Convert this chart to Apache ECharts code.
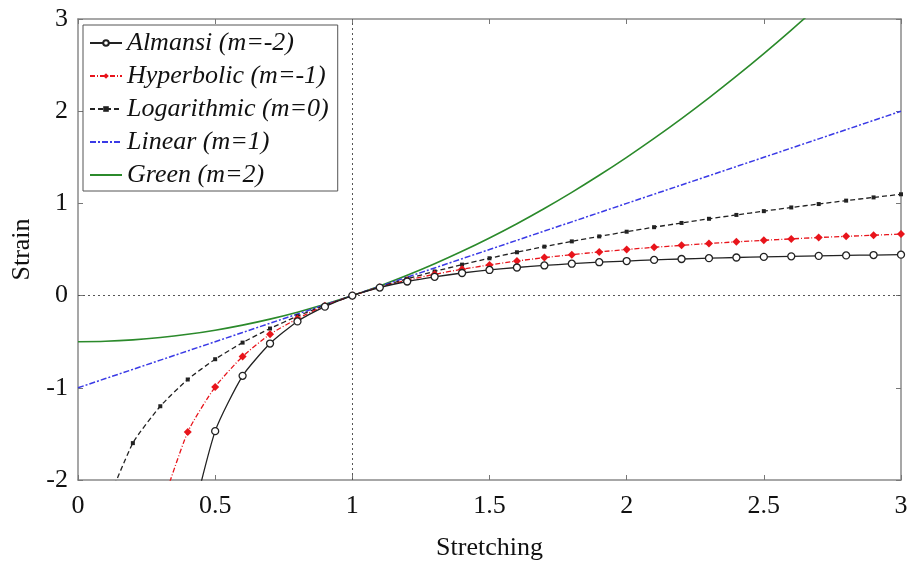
<!DOCTYPE html>
<html>
<head>
<meta charset="utf-8">
<title>Strain measures</title>
<script src="https://cdn.jsdelivr.net/npm/echarts@6/dist/echarts.min.js"></script>
<style>
	html, body { margin: 0; padding: 0; background: #fff; }
	#chart { width: 909px; height: 561px; }
</style>
</head>
<body>
<div id="chart"></div>
<script>
// stretching values (x axis), one point every 0.1
var stretch = [0, 0.1, 0.2, 0.3, 0.4, 0.5, 0.6, 0.7, 0.8, 0.9, 1.0,
	1.1, 1.2, 1.3, 1.4, 1.5, 1.6, 1.7, 1.8, 1.9, 2.0,
	2.1, 2.2, 2.3, 2.4, 2.5, 2.6, 2.7, 2.8, 2.9, 3.0];

// strain, null where the curve is not drawn
var almansi = [null, null, null, null, -2.62, -1.47, -0.87, -0.52, -0.28, -0.12, 0,
	0.087, 0.153, 0.204, 0.245, 0.278, 0.305, 0.327, 0.346, 0.362, 0.375,
	0.387, 0.397, 0.406, 0.413, 0.42, 0.426, 0.431, 0.436, 0.44, 0.444];
var hyperbolic = [null, null, null, -2.33, -1.48, -0.99, -0.66, -0.42, -0.25, -0.11, 0,
	0.091, 0.167, 0.231, 0.286, 0.333, 0.375, 0.412, 0.444, 0.474, 0.5,
	0.524, 0.545, 0.565, 0.583, 0.6, 0.615, 0.63, 0.643, 0.655, 0.667];
var logarithmic = [null, -2.3, -1.6, -1.2, -0.91, -0.69, -0.51, -0.357, -0.223, -0.105, 0,
	0.095, 0.182, 0.262, 0.336, 0.405, 0.47, 0.531, 0.588, 0.642, 0.693,
	0.742, 0.788, 0.833, 0.875, 0.916, 0.956, 0.993, 1.03, 1.065, 1.099];
var linear = [-1, -0.9, -0.8, -0.7, -0.6, -0.5, -0.4, -0.3, -0.2, -0.1, 0,
	0.1, 0.2, 0.3, 0.4, 0.5, 0.6, 0.7, 0.8, 0.9, 1.0,
	1.1, 1.2, 1.3, 1.4, 1.5, 1.6, 1.7, 1.8, 1.9, 2.0];
var green = [-0.5, -0.495, -0.48, -0.455, -0.42, -0.375, -0.32, -0.255, -0.18, -0.095, 0,
	0.105, 0.22, 0.345, 0.48, 0.625, 0.78, 0.945, 1.12, 1.305, 1.5,
	1.705, 1.92, 2.145, 2.38, 2.625, 2.88, 3.145, 3.42, 3.705, 4.0];

var xTicks = [0, 0.5, 1, 1.5, 2, 2.5, 3];
var yTicks = [-2, -1, 0, 1, 2, 3];

var serifFont = "'Liberation Serif', 'DejaVu Serif', serif";

//把x和y拼成点对
function pairs(ys) {
	var out = [];
	for(var i = 0; i < stretch.length; i++) {
		if(ys[i] !== null) {
			out.push([stretch[i], ys[i]]);
		}
	}
	return out;
}

var myChart = echarts.init(document.getElementById('chart'));

var axisLine = { show: true, onZero: false, lineStyle: { color: '#8a8a8a', width: 1.5 } };
var tickStyle = { show: true, inside: true, length: 5, lineStyle: { color: '#777', width: 1 } };

var option = {
	backgroundColor: '#fff',
	animation: false,
	grid: {
		left: 78,
		right: 8,
		top: 19,
		bottom: 81,
		outerBoundsMode: 'none'
	},
	legend: {
		orient: 'vertical',
		left: 83,
		top: 25,
		backgroundColor: '#fff',
		borderColor: '#555',
		borderWidth: 1,
		padding: [5, 9, 3, 6],
		itemGap: 7,
		itemWidth: 32,
		itemHeight: 7,
		textStyle: {
			fontFamily: serifFont,
			fontStyle: 'italic',
			fontSize: 26,
			lineHeight: 26,
			color: '#111'
		},
		data: [
			{ name: 'Almansi (m=-2)' },
			{ name: 'Hyperbolic (m=-1)' },
			{ name: 'Logarithmic (m=0)' },
			{ name: 'Linear (m=1)', itemStyle: { opacity: 0 } },
			{ name: 'Green (m=2)', itemStyle: { opacity: 0 } }
		]
	},
	xAxis: [{
		type: 'value',
		min: 0,
		max: 3,
		interval: 0.5,
		name: 'Stretching',
		nameLocation: 'middle',
		nameGap: 55,
		nameTextStyle: { fontFamily: serifFont, fontSize: 26, color: '#111' },
		axisLine: axisLine,
		axisTick: tickStyle,
		axisLabel: {
			margin: 13,
			fontFamily: serifFont,
			fontSize: 26,
			color: '#111',
			formatter: function(v) { return xTicks.indexOf(v) >= 0 ? String(v) : ''; }
		},
		splitLine: { show: false }
	}, {
		type: 'value',
		position: 'top',
		min: 0,
		max: 3,
		interval: 0.5,
		axisLine: axisLine,
		axisTick: tickStyle,
		axisLabel: { show: false },
		splitLine: { show: false }
	}],
	yAxis: [{
		type: 'value',
		min: -2,
		max: 3,
		interval: 1,
		name: 'Strain',
		nameLocation: 'middle',
		nameGap: 41,
		nameRotate: 90,
		nameTextStyle: { fontFamily: serifFont, fontSize: 26, color: '#111' },
		axisLine: axisLine,
		axisTick: tickStyle,
		axisLabel: {
			margin: 10,
			fontFamily: serifFont,
			fontSize: 26,
			color: '#111',
			formatter: function(v) { return yTicks.indexOf(v) >= 0 ? String(v) : ''; }
		},
		splitLine: { show: false }
	}, {
		type: 'value',
		position: 'right',
		min: -2,
		max: 3,
		interval: 1,
		axisLine: axisLine,
		axisTick: tickStyle,
		axisLabel: { show: false },
		splitLine: { show: false }
	}],
	series: [{
		name: 'Green (m=2)',
		type: 'line',
		data: pairs(green),
		smooth: 0.3,
		clip: true,
		symbol: 'none',
		lineStyle: { color: '#2b8a2b', width: 1.6 },
		itemStyle: { color: '#2b8a2b' },
		//虚线十字
		markLine: {
			silent: true,
			symbol: 'none',
			label: { show: false },
			lineStyle: { color: '#555', type: [2, 3], width: 1 },
			data: [{ xAxis: 1 }, { yAxis: 0 }]
		},
		z: 2
	}, {
		name: 'Linear (m=1)',
		type: 'line',
		data: pairs(linear),
		clip: true,
		symbol: 'none',
		lineStyle: { color: '#3a3ae6', width: 1.5, type: [6, 2, 2, 2] },
		itemStyle: { color: '#3a3ae6' },
		z: 3
	}, {
		name: 'Logarithmic (m=0)',
		type: 'line',
		data: pairs(logarithmic),
		smooth: 0.2,
		clip: true,
		symbol: 'rect',
		symbolSize: 4,
		lineStyle: { color: '#222', width: 1.3, type: [5, 3] },
		itemStyle: { color: '#222' },
		z: 4
	}, {
		name: 'Hyperbolic (m=-1)',
		type: 'line',
		data: pairs(hyperbolic),
		smooth: 0.2,
		clip: true,
		symbol: 'diamond',
		symbolSize: 8,
		lineStyle: { color: '#e8141b', width: 1.3, type: [5, 2, 1, 2] },
		itemStyle: { color: '#e8141b' },
		z: 5
	}, {
		name: 'Almansi (m=-2)',
		type: 'line',
		data: pairs(almansi),
		smooth: 0.2,
		clip: true,
		symbol: 'circle',
		symbolSize: 7,
		lineStyle: { color: '#222', width: 1.3 },
		itemStyle: { color: '#fff', borderColor: '#222', borderWidth: 1.3 },
		z: 6
	}]
};

myChart.setOption(option);
</script>
</body>
</html>
